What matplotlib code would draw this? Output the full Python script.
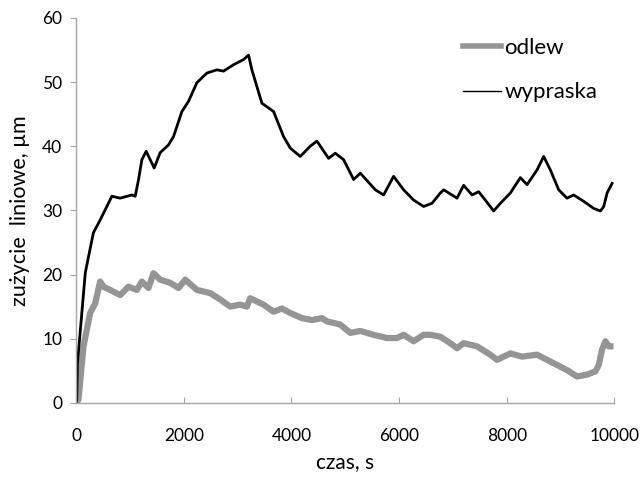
import matplotlib
matplotlib.use("Agg")
import matplotlib.pyplot as plt
from matplotlib.lines import Line2D

plt.rcParams['font.family'] = ['Lato', 'DejaVu Sans']

# wypraska (black)
t_wyp = [0, 10, 25, 170, 320, 446, 570, 663, 818, 1035, 1097, 1159, 1221, 1301, 1375, 1450,
         1561, 1716, 1809, 1964, 2088, 2243, 2429, 2615, 2738, 2924, 3110, 3203, 3265,
         3358, 3451, 3668, 3853, 3978, 4164, 4349, 4473, 4690, 4814, 4969, 5155, 5279,
         5558, 5712, 5898, 6084, 6270, 6456, 6611, 6766, 6828, 7076, 7199, 7355, 7478,
         7602, 7757, 7881, 8067, 8253, 8377, 8563, 8686, 8810, 8965, 9120, 9244, 9430,
         9616, 9740, 9802, 9864, 9957]
y_wyp = [0, 0.5, 6.2, 20.3, 26.5, 28.5, 30.6, 32.2, 31.9, 32.4, 32.2, 34.8, 37.9, 39.2, 37.9, 36.6,
         39.0, 40.2, 41.5, 45.4, 47.0, 49.9, 51.4, 51.9, 51.7, 52.7, 53.5, 54.2, 51.9,
         49.3, 46.7, 45.4, 41.5, 39.7, 38.4, 40.0, 40.8, 38.1, 38.9, 37.9, 34.8, 35.8,
         33.2, 32.4, 35.3, 33.2, 31.6, 30.6, 31.1, 32.7, 33.2, 31.9, 33.9, 32.4, 32.9,
         31.6, 29.9, 31.1, 32.7, 35.1, 34.0, 36.3, 38.4, 36.3, 33.2, 31.9, 32.4, 31.4,
         30.3, 29.9, 30.6, 32.7, 34.2]

# odlew (gray)
t_odl = [0, 43, 136, 260, 353, 446, 508, 818, 972, 1128, 1221, 1344, 1437, 1561, 1747, 1902,
         2026, 2243, 2491, 2677, 2862, 3048, 3172, 3234, 3482, 3668, 3823, 3978, 4195,
         4380, 4567, 4659, 4907, 5093, 5279, 5526, 5774, 5960, 6084, 6270, 6456, 6580,
         6766, 6952, 7076, 7199, 7448, 7695, 7819, 8067, 8284, 8563, 8749, 8934, 9120,
         9305, 9491, 9647, 9709, 9771, 9833, 9895, 9926]
y_odl = [0, 0.5, 8.8, 14.0, 15.5, 18.9, 18.1, 16.8, 18.1, 17.6, 18.9, 17.9, 20.2, 19.2, 18.7, 17.9,
         19.2, 17.6, 17.1, 16.1, 15.0, 15.3, 15.0, 16.3, 15.3, 14.2, 14.7, 14.0, 13.2,
         12.9, 13.2, 12.7, 12.2, 10.9, 11.2, 10.6, 10.1, 10.1, 10.6, 9.6, 10.6, 10.6,
         10.3, 9.3, 8.5, 9.3, 8.8, 7.5, 6.7, 7.7, 7.2, 7.5, 6.7, 5.9, 5.1,
         4.1, 4.4, 4.9, 5.9, 8.3, 9.6, 8.8, 8.8]

x_ticks = [0, 2000, 4000, 6000, 8000, 10000]
y_ticks = [0, 10, 20, 30, 40, 50, 60]

GRAY = '#959595'
AXC = '#a6a6a6'

fig = plt.figure(figsize=(6.4, 4.83), dpi=100)
ax = fig.add_axes([0.119, 0.166, 0.841, 0.797])

ax.plot(t_odl, y_odl, color=GRAY, lw=4.5, solid_joinstyle='round', label='odlew')
ax.plot(t_wyp, y_wyp, color='black', lw=2.0, solid_joinstyle='round', label='wypraska')

ax.set_xlim(0, 10000)
ax.set_ylim(0, 60)
ax.set_xticks(x_ticks)
ax.set_yticks(y_ticks)

for s in ['top', 'right']:
    ax.spines[s].set_visible(False)
for s in ['left', 'bottom']:
    ax.spines[s].set_color(AXC)
    ax.spines[s].set_linewidth(1.0)

ax.tick_params(axis='x', direction='in', length=4, color=AXC, labelsize=12.5, pad=18)
ax.tick_params(axis='y', direction='out', length=4, color=AXC, labelsize=12.5, pad=6)

ax.set_xlabel('czas, s', fontsize=15, labelpad=6)
ax.set_ylabel('zużycie  liniowe, µm', fontsize=15.5, labelpad=9)

handles = [Line2D([], [], color=GRAY, lw=4.0), Line2D([], [], color='black', lw=1.0)]
ax.legend(handles, ['odlew', 'wypraska'], loc='upper left', bbox_to_anchor=(0.719, 0.948),
          frameon=False, fontsize=16, handlelength=1.7, handletextpad=0.15,
          labelspacing=1.1, borderpad=0, borderaxespad=0)

fig.savefig('out.png', dpi=100)
